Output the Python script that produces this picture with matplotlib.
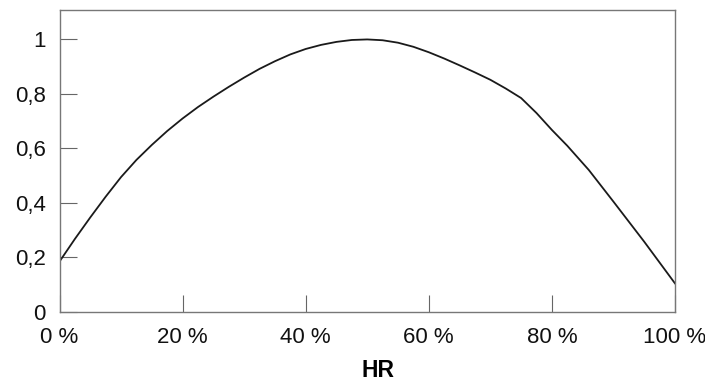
import matplotlib.pyplot as plt
from matplotlib.ticker import FixedLocator, FixedFormatter

plt.rcParams['font.family'] = ['Liberation Sans', 'DejaVu Sans']

# relative humidity (%) vs. value
hr = [0, 2.5, 5, 7.5, 10, 12.5, 15, 17.5, 20, 22.5, 25, 27.5, 30, 32.5, 35,
      37.5, 40, 42.5, 45, 47.5, 50, 52.5, 55, 57.5, 60, 62.5, 65, 67.5, 70,
      72.5, 75, 77.5, 80, 82.5, 86, 90, 95, 100]
val = [0.185, 0.268, 0.347, 0.423, 0.495, 0.558, 0.613, 0.664, 0.710, 0.752,
       0.790, 0.826, 0.860, 0.892, 0.920, 0.945, 0.965, 0.980, 0.991, 0.998,
       1.0, 0.997, 0.988, 0.973, 0.953, 0.930, 0.905, 0.879, 0.852, 0.820,
       0.785, 0.730, 0.668, 0.610, 0.521, 0.405, 0.258, 0.105]

xticks = [0, 20, 40, 60, 80, 100]
xlabels = ['0 %', '20 %', '40 %', '60 %', '80 %', '100 %']
yticks = [0, 0.2, 0.4, 0.6, 0.8, 1.0]
ylabels = ['0', '0,2', '0,4', '0,6', '0,8', '1']

fig = plt.figure(figsize=(7.05, 3.83), dpi=100)
ax = fig.add_axes([0.0844, 0.1854, 0.873, 0.7885])

ax.plot(hr, val, color='#1a1a1a', lw=1.3)

ax.set_xlim(0, 100)
ax.set_ylim(0, 1.108)
ax.xaxis.set_major_locator(FixedLocator(xticks))
ax.xaxis.set_major_formatter(FixedFormatter(xlabels))
ax.yaxis.set_major_locator(FixedLocator(yticks))
ax.yaxis.set_major_formatter(FixedFormatter(ylabels))

ax.tick_params(axis='both', direction='in', length=12.5, width=0.8,
               color='#666666', labelsize=16, labelcolor='#111111')
ax.tick_params(axis='x', pad=11)
ax.tick_params(axis='y', pad=10)

for s in ax.spines.values():
    s.set_color('#777777')
    s.set_linewidth(1.0)

ax.set_xlabel('HR', fontsize=16.5, fontweight='bold')
ax.xaxis.set_label_coords(0.5167, -0.156)

fig.savefig('out.png', dpi=100)
